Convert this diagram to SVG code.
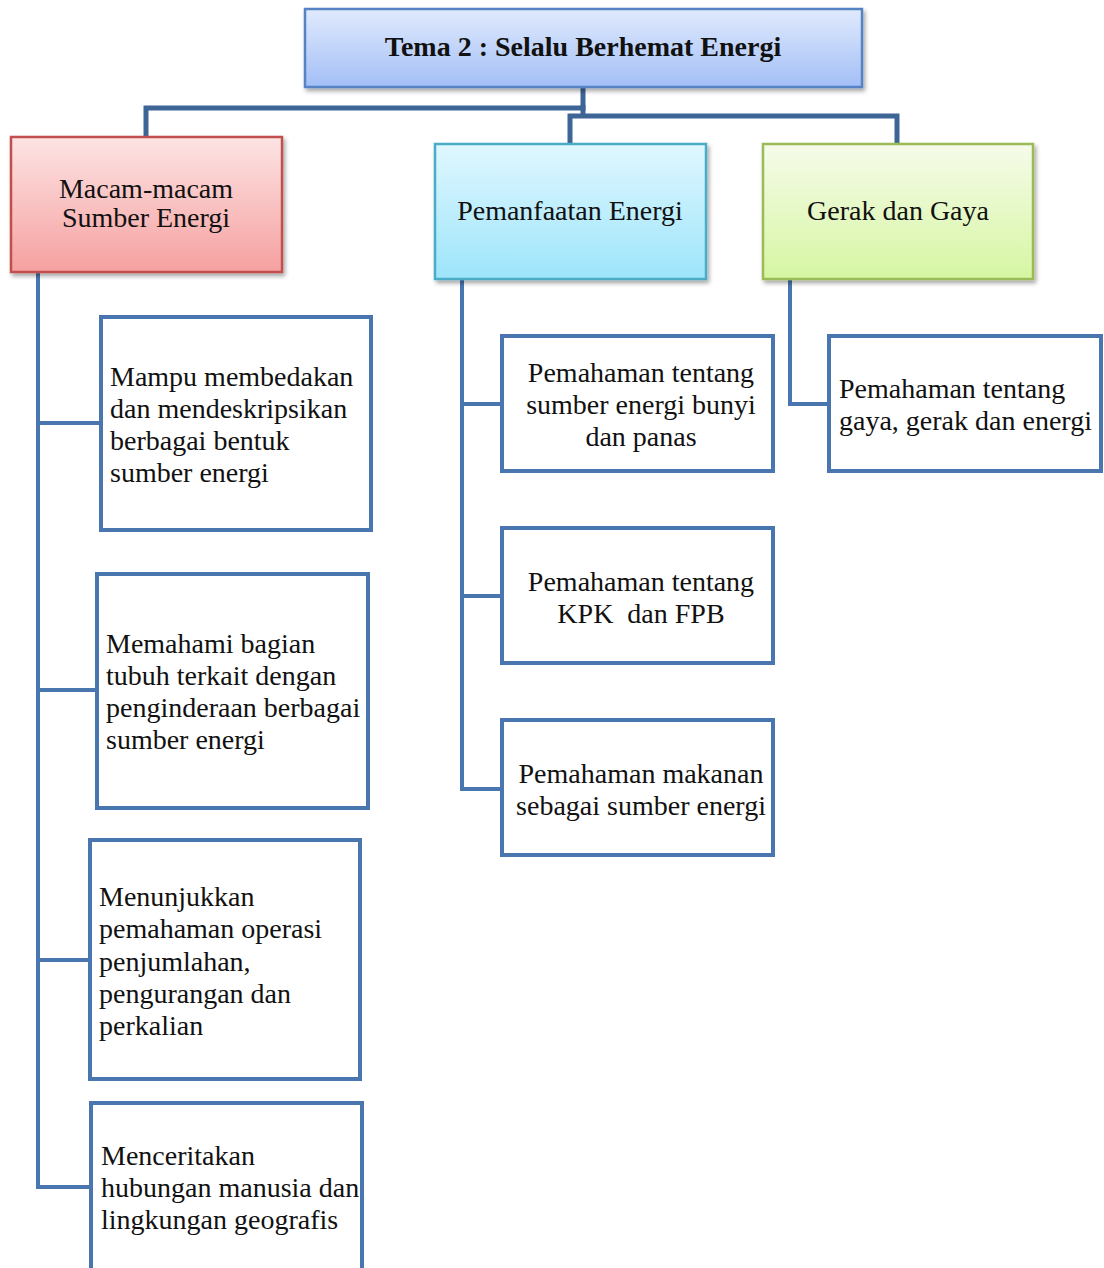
<svg xmlns="http://www.w3.org/2000/svg" width="1104" height="1268" viewBox="0 0 1104 1268">
<defs>
<linearGradient id="gBlue" x1="0" y1="0" x2="0" y2="1"><stop offset="0" stop-color="#e0eafd"/><stop offset="1" stop-color="#a3bff6"/></linearGradient>
<linearGradient id="gRed" x1="0" y1="0" x2="0" y2="1"><stop offset="0" stop-color="#fde4e4"/><stop offset="1" stop-color="#f6a0a0"/></linearGradient>
<linearGradient id="gCyan" x1="0" y1="0" x2="0" y2="1"><stop offset="0" stop-color="#e0f7fe"/><stop offset="1" stop-color="#9de5fb"/></linearGradient>
<linearGradient id="gGreen" x1="0" y1="0" x2="0" y2="1"><stop offset="0" stop-color="#f6fbea"/><stop offset="1" stop-color="#d6f6a2"/></linearGradient>
<filter id="sh" x="-10%" y="-10%" width="125%" height="130%"><feDropShadow dx="2" dy="3" stdDeviation="2" flood-color="#000" flood-opacity="0.35"/></filter>
</defs>
<style>
.t{font-family:"Liberation Serif","Times New Roman",serif;font-size:28px;fill:#111;}
.b{font-weight:bold;}
.m{text-anchor:middle;}
.box{fill:#fff;stroke:#4a76b0;stroke-width:4;}
.top{fill:none;stroke:#3d6595;stroke-width:5;stroke-linejoin:miter;}
.con{fill:none;stroke:#4a76b0;stroke-width:4;stroke-linejoin:miter;}
</style>
<g id="connectors">
<polyline class="top" points="583,87 583,108 146,108 146,137"/>
<polyline class="top" points="583,105 583,116"/>
<polyline class="top" points="570,144 570,116 897,116 897,144"/>
<polyline class="con" points="38,272 38,1187 90,1187"/>
<line class="con" x1="38" y1="423" x2="100" y2="423"/>
<line class="con" x1="38" y1="690" x2="96" y2="690"/>
<line class="con" x1="38" y1="960" x2="89" y2="960"/>
<polyline class="con" points="462,279 462,789 501,789"/>
<line class="con" x1="462" y1="404" x2="501" y2="404"/>
<line class="con" x1="462" y1="596" x2="501" y2="596"/>
<polyline class="con" points="790,279 790,404 828,404"/>
</g>
<g id="root">
<rect x="305" y="9" width="557" height="78" fill="url(#gBlue)" stroke="#5583c4" stroke-width="2.5" filter="url(#sh)"/>
<text class="t b m" x="583" y="56">Tema 2 : Selalu Berhemat Energi</text>
</g>
<g id="sumber">
<rect x="11" y="137" width="271" height="135" fill="url(#gRed)" stroke="#c0504d" stroke-width="2.5" filter="url(#sh)"/>
<text class="t m" x="146" y="198">Macam-macam</text>
<text class="t m" x="146" y="227">Sumber Energi</text>
</g>
<g id="pemanfaatan">
<rect x="435" y="144" width="271" height="135" fill="url(#gCyan)" stroke="#4bacc6" stroke-width="2.5" filter="url(#sh)"/>
<text class="t m" x="570" y="220">Pemanfaatan Energi</text>
</g>
<g id="gerak">
<rect x="763" y="144" width="270" height="135" fill="url(#gGreen)" stroke="#9bbb59" stroke-width="2.5" filter="url(#sh)"/>
<text class="t m" x="898" y="220">Gerak dan Gaya</text>
</g>
<g id="l1">
<rect class="box" x="101" y="317" width="270" height="213"/>
<text class="t" x="110" y="386">Mampu membedakan</text>
<text class="t" x="110" y="418">dan mendeskripsikan</text>
<text class="t" x="110" y="450">berbagai bentuk</text>
<text class="t" x="110" y="482">sumber energi</text>
</g>
<g id="l2">
<rect class="box" x="97" y="574" width="271" height="234"/>
<text class="t" x="106" y="653">Memahami bagian</text>
<text class="t" x="106" y="685">tubuh terkait dengan</text>
<text class="t" x="106" y="717">penginderaan berbagai</text>
<text class="t" x="106" y="749">sumber energi</text>
</g>
<g id="l3">
<rect class="box" x="90" y="840" width="270" height="239"/>
<text class="t" x="99" y="906">Menunjukkan</text>
<text class="t" x="99" y="938">pemahaman operasi</text>
<text class="t" x="99" y="971">penjumlahan,</text>
<text class="t" x="99" y="1003">pengurangan dan</text>
<text class="t" x="99" y="1035">perkalian</text>
</g>
<g id="l4">
<rect class="box" x="91" y="1103" width="271" height="200"/>
<text class="t" x="101" y="1165">Menceritakan</text>
<text class="t" x="101" y="1197">hubungan manusia dan</text>
<text class="t" x="101" y="1229">lingkungan geografis</text>
</g>
<g id="m1">
<rect class="box" x="502" y="336" width="271" height="135"/>
<text class="t m" x="641" y="382">Pemahaman tentang</text>
<text class="t m" x="641" y="414">sumber energi bunyi</text>
<text class="t m" x="641" y="446">dan panas</text>
</g>
<g id="m2">
<rect class="box" x="502" y="528" width="271" height="135"/>
<text class="t m" x="641" y="591">Pemahaman tentang</text>
<text class="t m" x="641" y="623" xml:space="preserve">KPK  dan FPB</text>
</g>
<g id="m3">
<rect class="box" x="502" y="720" width="271" height="135"/>
<text class="t m" x="641" y="783">Pemahaman makanan</text>
<text class="t m" x="641" y="815">sebagai sumber energi</text>
</g>
<g id="r1">
<rect class="box" x="829" y="336" width="272" height="135"/>
<text class="t" x="839" y="398">Pemahaman tentang</text>
<text class="t" x="839" y="430">gaya, gerak dan energi</text>
</g>
</svg>
